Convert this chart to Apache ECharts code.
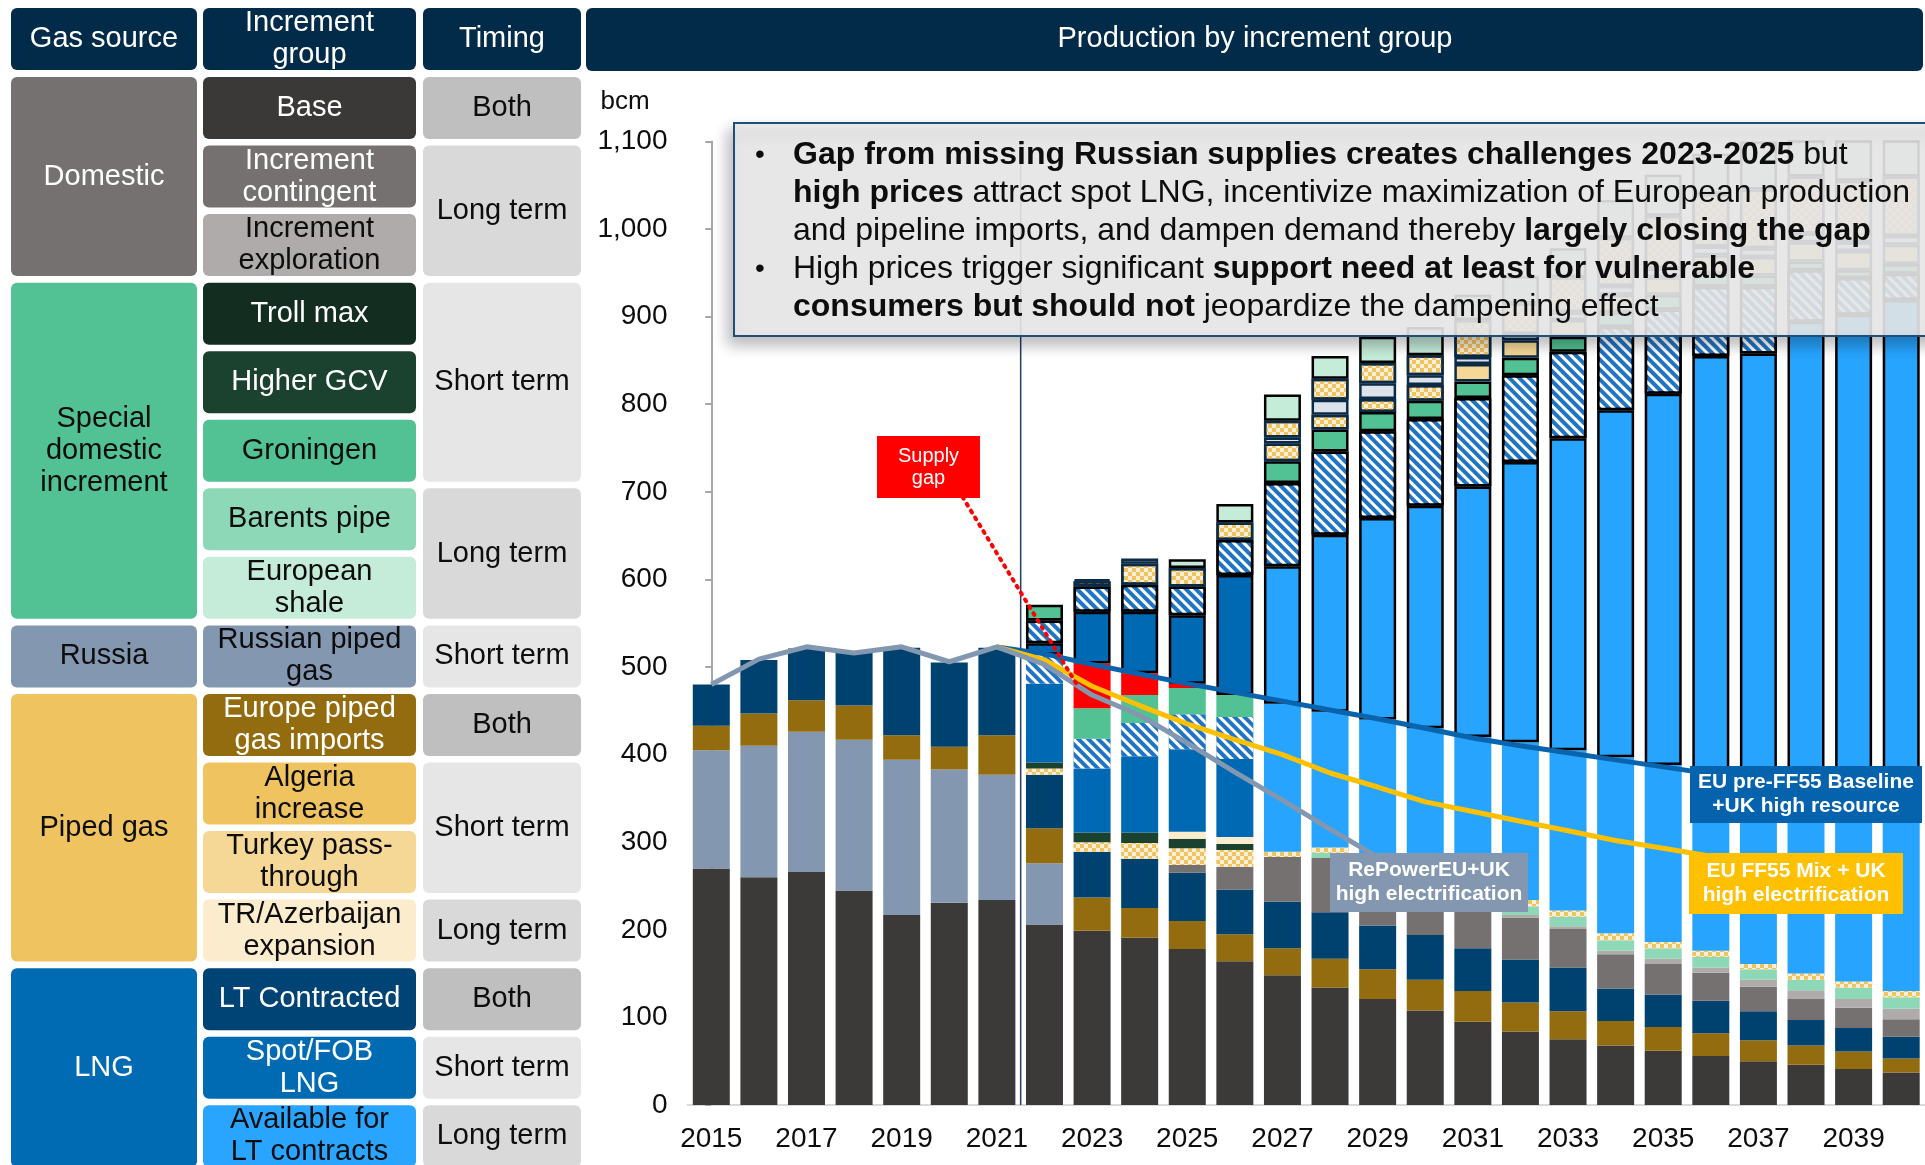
<!DOCTYPE html>
<html lang="en" style="height: 100%">

<head>
  <meta charset="utf-8">
</head>

<body style="height: 100%; margin: 0; overflow: hidden; background: #fff">
  <div id="container" style="width: 1925px; height: 1165px"></div>

  <script type="text/javascript" src="https://fastly.jsdelivr.net/npm/echarts@6.0.0/dist/echarts.min.js"></script>

  <script type="text/javascript">
    // years on the axis
    const years = ['2015', '2016', '2017', '2018', '2019', '2020', '2021', '2022', '2023', '2024', '2025', '2026', '2027',
      '2028', '2029', '2030', '2031', '2032', '2033', '2034', '2035', '2036', '2037', '2038', '2039', '2040'];
    const N = null;

    // filled part of each bar (bcm), bottom to top
    const base = [270, 260, 266, 245, 217, 231, 234, 206, 199, 191, 178, 164, 148, 134, 121, 108, 95, 84, 75, 68, 62, 56, 50, 46, 41, 37];
    const russianPiped = [135, 150, 160, 172, 177, 152, 143, 70, N, N, N, N, N, N, N, N, N, N, N, N, N, N, N, N, N, N];
    const europePiped = [28, 37, 36, 39, 28, 26, 45, 40, 38, 34, 32, 31, 31, 33, 34, 35, 35, 33, 32, 28, 27, 26, 24, 22, 20, 16];
    const ltContracted = [47, 61, 59, 62, 100, 96, 100, 61, 52, 56, 55, 51, 53, 53, 50, 51, 49, 49, 50, 37, 37, 37, 33, 29, 27, 25];
    const incContingent = [N, N, N, N, N, N, N, N, N, N, 9, 26, 51, 62, 60, 54, 53, 48, 44, 39, 35, 32, 28, 24, 23, 20];
    const incExploration = [N, N, N, N, N, N, N, N, N, N, N, N, N, N, 3, 3, 4, 3, 3, 4, 6, 6, 8, 10, 10, 12];
    const barentsPipe = [N, N, N, N, N, N, N, N, N, N, N, N, N, 6, 8, 8, 8, 10, 11, 12, 12, 12, 12, 12, 13, 13];
    const trAzerbaijan = [N, N, N, N, N, N, N, 7, 11, 18, 19, 19, 6, 6, 6, 6, 6, 7, 7, 8, 7, 7, 6, 7, 7, 7];
    const trollGcv = [N, N, N, N, N, N, N, 7, 11, 12, 11, 7, N, N, N, N, N, N, N, N, N, N, N, N, N, N];
    const turkeyThin = [N, N, N, N, N, N, N, N, N, N, 8, 8, N, N, N, N, N, N, N, N, N, N, N, N, N, N];
    const spotLng = [N, N, N, N, N, N, N, 90, 73, 87, 94, 89, N, N, N, N, N, N, N, N, N, N, N, N, N, N];
    const availHatched = [N, N, N, N, N, N, N, 33, 34, 38, 40, 48, N, N, N, N, N, N, N, N, N, N, N, N, N, N];
    const groningen = [N, N, N, N, N, N, N, N, 35, 32, 30, 25, N, N, N, N, N, N, N, N, N, N, N, N, N, N];
    const supplyGap = [N, N, N, N, N, N, N, N, 51, 25, 5, N, N, N, N, N, N, N, N, N, N, N, N, N, N, N];
    const availLt = [N, N, N, N, N, N, N, N, N, N, N, N, 169, 155, 158, 165, 170, 180, 183, 201, 202, 204, 210, 212, 212, 214];

    // outlined increments stacked above
    const oSpot = [N, N, N, N, N, N, N, 13, 59, 70, 78, 137, N, N, N, N, N, N, N, N, N, N, N, N, N, N];
    const oAvail = [N, N, N, N, N, N, N, N, N, N, N, N, 157, 202, 230, 254, 286, 320, 356, 396, 424, 475, 487, 532, 549, 575];
    const oHatched = [N, N, N, N, N, N, N, 26, 29, 31, 33, 40, 95, 95, 99, 99, 101, 99, 99, 95, 96, 79, 76, 59, 42, 30];
    const oGroningen = [N, N, N, N, N, N, N, 18, N, N, N, N, 25, 25, 22, 21, 19, 20, 17, 17, 17, 15, 13, 10, 9, 11];
    const oCheck = [N, N, N, N, N, N, N, N, 6, 24, 21, 20, 20, 17, 15, 18, N, N, N, N, N, N, N, N, N, N];
    const oTan = [N, N, N, N, N, N, N, N, N, N, N, N, N, N, N, N, 20, 20, 19, 20, 20, 21, 21, 22, 22, 22];
    const oThin = [N, N, N, N, N, N, N, N, 2, 6, N, N, 7, 17, 18, 11, 8, 7, 9, 10, 10, 10, 10, 10, 10, 10];
    const oCheck2 = [N, N, N, N, N, N, N, N, N, N, N, N, 19, 24, 23, 23, 42, 35, 40, 55, 60, 60, 67, 65, 70, 68];
    const oShale = [N, N, N, N, N, N, N, N, N, N, 10, 21, 30, 26, 30, 32, 29, 31, 33, 43, 47, 46, 55, 50, 55, 50];

    // demand lines
    const repowerLine = [480, 509, 523, 516, 523, 506, 523, 503, 468, 445, 413, 380, 348, 315, 283, N, N, N, N, N, N, N, N, N, N, N];
    const baselineLine = [N, N, N, N, N, N, 523, 515, 503, 492, 481, 471, 461, 451, 441, 430, 419, 410, 402, 394, 386, 378, 369, 360, 351, 342];
    const ff55Line = [N, N, N, N, N, N, 523, 508, 478, 456, 435, 417, 400, 379, 363, 346, 335, 324, 313, 302, 293, 284, 276, 269, 262, 256];
    // pointer from the "Supply gap" note (x in category index units)
    const gapPointer = [[5.28, 694], [7.68, 480]];
    const separator = [[6.5, 0], [6.5, 1100]];

    // left-hand table
    const rowNames = ['Base', 'Increment\ncontingent', 'Increment\nexploration', 'Troll max', 'Higher GCV', 'Groningen',
      'Barents pipe', 'European\nshale', 'Russian piped\ngas', 'Europe piped\ngas imports', 'Algeria\nincrease',
      'Turkey pass-\nthrough', 'TR/Azerbaijan\nexpansion', 'LT Contracted', 'Spot/FOB\nLNG', 'Available for\nLT contracts'];
    const rowColors = ['#3b3838', '#767171', '#afabab', '#132d20', '#1b412f', '#52c193', '#8dd8b6', '#c5ebd9', '#8497b0',
      '#946c10', '#efc35f', '#f5d896', '#fbeccd', '#004375', '#006ab2', '#29a5ff'];
    const rowTextWhite = [1, 1, 0, 1, 1, 0, 0, 0, 0, 1, 0, 0, 0, 1, 1, 0];
    const groups = [
      { name: 'Domestic', from: 0, to: 2, color: '#767171', white: 1 },
      { name: 'Special\ndomestic\nincrement', from: 3, to: 7, color: '#52c193', white: 0 },
      { name: 'Russia', from: 8, to: 8, color: '#8497b0', white: 0 },
      { name: 'Piped gas', from: 9, to: 12, color: '#efc35f', white: 0 },
      { name: 'LNG', from: 13, to: 15, color: '#006ab2', white: 1 }
    ];
    const timing = [
      ['Both', 0, 0], ['Long term', 1, 2], ['Short term', 3, 5], ['Long term', 6, 7], ['Short term', 8, 8],
      ['Both', 9, 9], ['Short term', 10, 11], ['Long term', 12, 12], ['Both', 13, 13], ['Short term', 14, 14], ['Long term', 15, 15]
    ];
    const timingColors = { 'Both': '#bfbfbf', 'Long term': '#d9d9d9', 'Short term': '#e6e6e6' };

    const FONT = '"Liberation Sans", Arial, sans-serif';
    const DARK = '#0d0d0d';

    const hatch = { symbol: 'rect', symbolSize: 1, color: '#ffffff', dashArrayX: [1, 0], dashArrayY: [3, 3.5], rotation: Math.PI / 4 };
    const check = { symbol: 'rect', symbolSize: 1, color: '#efc262', dashArrayX: [[4, 4], [0, 4, 4, 0]], dashArrayY: [4, 0] };

    function filled(name, data, color, decal) {
      const s = { name: name, type: 'bar', stack: 'total', barWidth: 37, data: data, itemStyle: { color: color } };
      if (decal) s.itemStyle.decal = decal;
      return s;
    }
    function outlined(name, data, color, decal, border) {
      const s = filled(name, data, color, decal);
      s.itemStyle.borderColor = border || '#000';
      s.itemStyle.borderWidth = 2.5;
      return s;
    }
    function line(name, data, color, z) {
      return { name: name, type: 'line', data: data, symbol: 'none', z: z, lineStyle: { color: color, width: 5 } };
    }

    // ---- graphic: headers, table, notes
    const els = [];
    function rect(x, y, w, h, fill, extra) {
      const e = { type: 'rect', z: 100, shape: { x: x, y: y, width: w, height: h, r: 6 }, style: { fill: fill } };
      if (extra) Object.assign(e.style, extra);
      els.push(e);
    }
    function text(x, y, t, color, size, weight, align) {
      els.push({
        type: 'text', z: 101,
        style: {
          text: t, x: x, y: y, fill: color, align: align || 'center', verticalAlign: 'middle',
          font: (weight || 'normal') + ' ' + size + 'px ' + FONT, lineHeight: Math.round(size * 1.12)
        }
      });
    }
    const NAVY = '#022b4a';
    const cols = [[11, 186], [203, 213], [423, 158]];
    const rowTop = i => 77 + i * 68.55;
    const rowH = 62;
    rect(11, 8, 186, 62, NAVY); text(104, 39, 'Gas source', '#fff', 29);
    rect(203, 8, 213, 62, NAVY); text(309.5, 39, 'Increment\ngroup', '#fff', 29);
    rect(423, 8, 158, 62, NAVY); text(502, 39, 'Timing', '#fff', 29);
    rect(586, 8, 1337, 63, NAVY); text(1255, 39, 'Production by increment group', '#fff', 29);
    groups.forEach(g => {
      const y0 = rowTop(g.from), y1 = rowTop(g.to) + rowH;
      rect(cols[0][0], y0, cols[0][1], y1 - y0, g.color);
      text(cols[0][0] + cols[0][1] / 2, (y0 + y1) / 2, g.name, g.white ? '#fff' : DARK, 29);
    });
    rowNames.forEach((n, i) => {
      const y0 = rowTop(i);
      rect(cols[1][0], y0, cols[1][1], rowH, rowColors[i]);
      text(cols[1][0] + cols[1][1] / 2, y0 + rowH / 2, n, rowTextWhite[i] ? '#fff' : DARK, 29);
    });
    timing.forEach(t => {
      const y0 = rowTop(t[1]), y1 = rowTop(t[2]) + rowH;
      rect(cols[2][0], y0, cols[2][1], y1 - y0, timingColors[t[0]]);
      text(cols[2][0] + cols[2][1] / 2, (y0 + y1) / 2, t[0], DARK, 29);
    });
    text(625, 102, 'bcm', DARK, 26);

    // callout boxes on the lines
    function callout(x, y, w, h, fill, t, size, weight) {
      els.push({ type: 'rect', z: 100, shape: { x: x, y: y, width: w, height: h }, style: { fill: fill } });
      text(x + w / 2, y + h / 2, t, '#fff', size, weight);
    }
    callout(1690, 766, 232, 57, '#0563ad', 'EU pre-FF55 Baseline\n+UK high resource', 21, 'bold');
    callout(1689, 853, 214, 61, '#ffc000', 'EU FF55 Mix + UK\nhigh electrification', 21, 'bold');
    callout(1330, 853, 198, 59, '#8497b0', 'RePowerEU+UK\nhigh electrification', 21, 'bold');
    callout(877, 436, 103, 62, '#ff0000', 'Supply\ngap', 20, 'normal');

    // key message box
    els.push({
      type: 'rect', z: 100, shape: { x: 734, y: 123, width: 1210, height: 213 },
      style: { fill: 'rgba(237,237,237,0.88)', stroke: '#1f4e79', lineWidth: 2, shadowBlur: 14, shadowOffsetX: -5, shadowOffsetY: 8, shadowColor: 'rgba(0,0,0,0.3)' }
    });
    const noteLines = [
      '{b|Gap from missing Russian supplies creates challenges 2023-2025} but',
      '{b|high prices} attract spot LNG, incentivize maximization of European production',
      'and pipeline imports, and dampen demand thereby {b|largely closing the gap}',
      'High prices trigger significant {b|support need at least for vulnerable}',
      '{b|consumers but should not} jeopardize the dampening effect'
    ];
    noteLines.forEach((t, i) => {
      els.push({
        type: 'text', z: 101,
        style: {
          text: t, x: 793, y: 155 + i * 38, fill: DARK, align: 'left', verticalAlign: 'middle',
          font: '32px ' + FONT, rich: { b: { font: 'bold 32px ' + FONT, fill: DARK } }
        }
      });
    });
    text(760, 155, '•', DARK, 28);
    text(760, 269, '•', DARK, 28);

    var dom = document.getElementById('container');
    var myChart = echarts.init(dom, null, { renderer: 'canvas' });
    var option;

    option = {
      animation: false,
      backgroundColor: '#ffffff',
      textStyle: { fontFamily: FONT },
      grid: { left: 687.5, right: -11.5, top: 141.4, bottom: 60 },
      xAxis: [
        {
          type: 'category', data: years,
          axisLine: { lineStyle: { color: '#d9d9d9', width: 2 } },
          axisTick: { show: false },
          axisLabel: { interval: 1, fontSize: 28, color: DARK, margin: 20 }
        },
        { type: 'value', min: -0.5, max: 25.5, show: false }
      ],
      yAxis: {
        type: 'value', min: 0, max: 1100, interval: 100,
        axisLine: { show: true, lineStyle: { color: '#a6a6a6', width: 2 } },
        axisTick: { show: true, length: 6, lineStyle: { color: '#a6a6a6', width: 2 } },
        splitLine: { show: false },
        axisLabel: { fontSize: 28, color: DARK, margin: 20, formatter: v => v.toLocaleString('en-US') }
      },
      series: [
        { type: 'line', xAxisIndex: 1, data: separator, symbol: 'none', z: 1, lineStyle: { color: '#1f3f66', width: 1.5 } },
        filled('Base', base, '#3b3a39'),
        filled('Russian piped gas', russianPiped, '#8497b0'),
        filled('Europe piped gas imports', europePiped, '#946c10'),
        filled('LT Contracted', ltContracted, '#00426f'),
        filled('Increment contingent', incContingent, '#767171'),
        filled('Increment exploration', incExploration, '#afabab'),
        filled('Barents pipe', barentsPipe, '#8dd8b6'),
        filled('TR/Azerbaijan expansion', trAzerbaijan, '#fcefd4', check),
        filled('Troll max / Higher GCV', trollGcv, '#1b412f'),
        filled('Turkey pass-through', turkeyThin, '#fbeccd'),
        filled('Spot/FOB LNG', spotLng, '#0069b4'),
        filled('Available (hatched)', availHatched, '#1f74c3', hatch),
        filled('Groningen', groningen, '#52c193'),
        filled('Supply gap', supplyGap, '#ff0000'),
        filled('Available for LT contracts', availLt, '#27a4fe'),
        outlined('Spot/FOB LNG +', oSpot, '#0069b4'),
        outlined('Available for LT contracts +', oAvail, '#27a4fe'),
        outlined('Available (hatched) +', oHatched, '#1f74c3', hatch),
        outlined('Groningen +', oGroningen, '#52c193'),
        outlined('Turkey pass-through +', oCheck, '#fcefd4', check, '#0b2a45'),
        outlined('Algeria increase +', oTan, '#f5d896', null, '#0b2a45'),
        outlined('Troll max +', oThin, '#dde3ea', null, '#0b2a45'),
        outlined('TR/Azerbaijan expansion +', oCheck2, '#fcefd4', check, '#0b2a45'),
        outlined('European shale +', oShale, '#c5ebd9'),
        line('EU pre-FF55 Baseline', baselineLine, '#0a64ad', 5),
        line('EU FF55 Mix', ff55Line, '#ffc000', 6),
        line('RePowerEU', repowerLine, '#8497b0', 7),
        { type: 'line', xAxisIndex: 1, data: gapPointer, symbol: 'none', z: 8, lineStyle: { color: '#ff0000', width: 4, type: [2, 6], cap: 'round' } }
      ],
      graphic: { elements: els }
    };

    if (option && typeof option === 'object') {
      myChart.setOption(option);
    }

    window.addEventListener('resize', myChart.resize);
  </script>
</body>

</html>
